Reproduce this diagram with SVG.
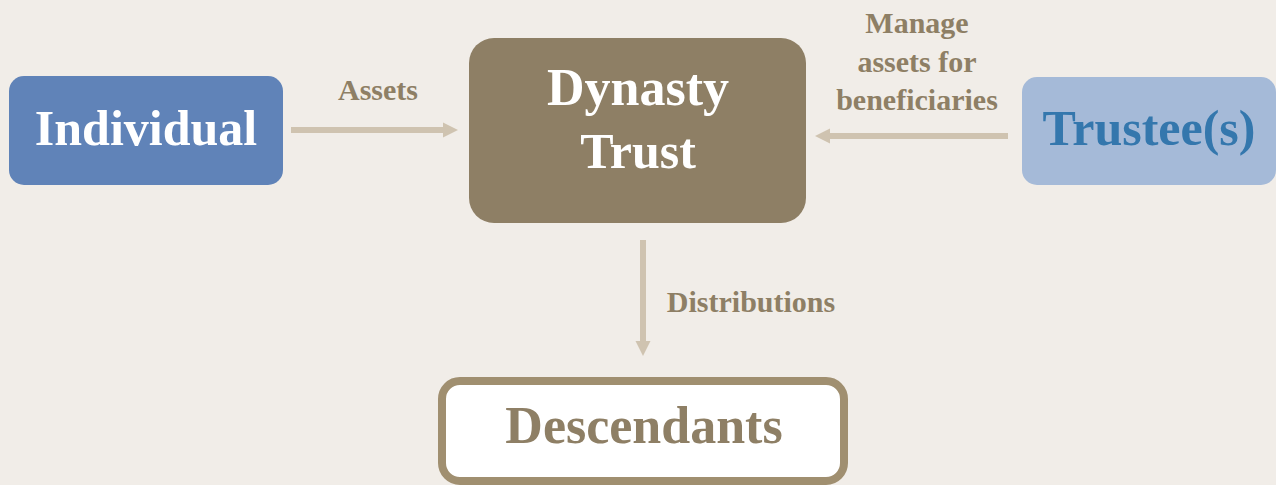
<svg xmlns="http://www.w3.org/2000/svg" width="1276" height="485" viewBox="0 0 1276 485">
<style>
text{font-family:"Liberation Serif","DejaVu Serif",serif;font-weight:bold;text-anchor:middle}
.big{font-size:50px}
.lbl{font-size:30px;fill:#8E7F65}
.conn{stroke:#CFC3B0;stroke-width:6;fill:none}
</style>
<defs>
<marker id="ah" viewBox="0 0 10 10" refX="0" refY="5" markerWidth="2.5" markerHeight="2.7" orient="auto" markerUnits="strokeWidth">
<path d="M0,0 L10,5 L0,10 z" fill="#CFC3B0"/>
</marker>
</defs>
<rect width="1276" height="485" fill="#F1EDE8"/>
<g id="connectors">
<line class="conn" x1="291" y1="130" x2="443" y2="130" marker-end="url(#ah)"/>
<line class="conn" x1="1008" y1="136" x2="830" y2="136" marker-end="url(#ah)"/>
<line class="conn" x1="643" y1="240" x2="643" y2="341" marker-end="url(#ah)"/>
<text class="lbl" x="378" y="100">Assets</text>
<text class="lbl" x="917" y="33">Manage</text>
<text class="lbl" x="917" y="72">assets for</text>
<text class="lbl" x="917" y="110">beneficiaries</text>
<text class="lbl" x="751" y="312">Distributions</text>
</g>
<g id="individual">
<rect x="9" y="76" width="274" height="109" rx="15" fill="#6083B8"/>
<text class="big" x="146" y="145" fill="#fff">Individual</text>
</g>
<g id="dynasty-trust">
<rect x="469" y="38" width="337" height="185" rx="25" fill="#8E7F65"/>
<text class="big" x="638" y="105" fill="#fff" style="font-size:52px">Dynasty</text>
<text class="big" x="638" y="168" fill="#fff">Trust</text>
</g>
<g id="trustees">
<rect x="1022" y="77" width="254" height="108" rx="15" fill="#A5BAD8"/>
<text class="big" x="1149" y="145" fill="#3477AD">Trustee(s)</text>
</g>
<g id="descendants">
<rect x="442" y="381" width="402" height="100" rx="18" fill="#fff" stroke="#A08F70" stroke-width="8"/>
<text class="big" x="644" y="443" fill="#8E7F65" style="font-size:52px">Descendants</text>
</g>
</svg>
